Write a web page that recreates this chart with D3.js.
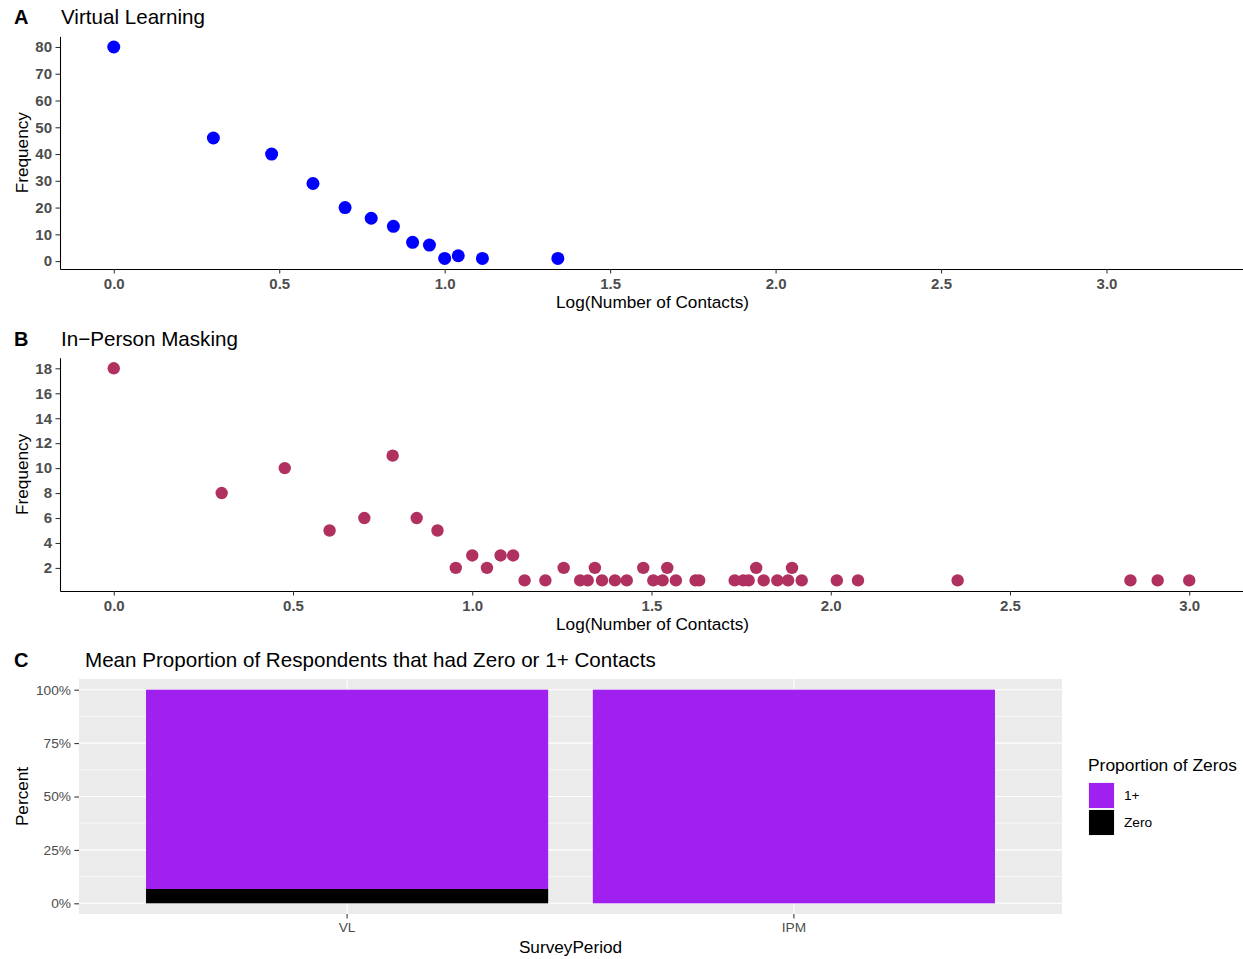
<!DOCTYPE html>
<html><head><meta charset="utf-8">
<script src="https://cdn.jsdelivr.net/npm/d3@7"></script>
<style>
body{margin:0;background:#fff;}
svg{display:block;font-family:"Liberation Sans",Arial,Helvetica,sans-serif;}
</style>
</head><body>
<svg id="chart" width="1243" height="959"></svg>
<script>
// ---------- DATA ----------
const vlLogContacts = [0.000, 0.301, 0.477, 0.602, 0.699, 0.778, 0.845, 0.903, 0.954, 1.000, 1.041, 1.114, 1.342];
const vlFrequency   = [80, 46, 40, 29, 20, 16, 13, 7, 6, 1, 2, 1, 1];

const ipmLogContacts = [0.000, 0.301, 0.477, 0.602, 0.699, 0.778, 0.845, 0.903, 0.954, 1.000,
  1.041, 1.079, 1.114, 1.146, 1.204, 1.255, 1.301, 1.322, 1.342, 1.362,
  1.398, 1.431, 1.477, 1.505, 1.531, 1.544, 1.568, 1.623, 1.633, 1.732,
  1.756, 1.771, 1.792, 1.813, 1.851, 1.881, 1.892, 1.919, 2.017, 2.076,
  2.354, 2.836, 2.912, 3.000];
const ipmFrequency = [18, 8, 10, 5, 6, 11, 6, 5, 2, 3,
  2, 3, 3, 1, 1, 2, 1, 1, 2, 1,
  1, 1, 2, 1, 1, 2, 1, 1, 1, 1,
  1, 1, 2, 1, 1, 1, 2, 1, 1, 1,
  1, 1, 1, 1];

const surveyPeriods = ["VL", "IPM"];
const zeroCategories = ["1+", "Zero"];
const proportionOnePlus = [0.933, 1.000];
const proportionZero = [0.067, 0.000];

const logTicks = [0.0, 0.5, 1.0, 1.5, 2.0, 2.5, 3.0];
const freqTicksA = [0, 10, 20, 30, 40, 50, 60, 70, 80];
const freqTicksB = [2, 4, 6, 8, 10, 12, 14, 16, 18];
const percentTicks = [0, 0.25, 0.5, 0.75, 1.0];

// ---------- DRAW ----------
const svg = d3.select("#chart");
const categoryColor = d3.scaleOrdinal().domain(zeroCategories).range(["#A020F0", "#000000"]);

function headerText(x, y, letter, title, titleX) {
  svg.append("text").attr("x", x).attr("y", y).attr("font-size", 20).attr("font-weight", "bold")
    .attr("fill", "#000").text(letter);
  svg.append("text").attr("x", titleX).attr("y", y).attr("font-size", 20.6).attr("fill", "#000").text(title);
}

function styleAxis(g, labelSize, bold) {
  g.selectAll(".tick line").attr("stroke", "#333333").attr("stroke-width", 1.07);
  g.selectAll(".tick text").attr("fill", "#4D4D4D").attr("font-size", labelSize)
    .attr("font-weight", bold ? "bold" : "normal")
    .attr("font-family", "'Liberation Sans',Arial,Helvetica,sans-serif");
}

function scatterPanel(cfg) {
  const left = 60, right = 1243;
  const x = d3.scaleLinear().domain(cfg.xDomain).range([left, right]);
  const y = d3.scaleLinear().domain(cfg.yDomain).range([cfg.bottom, cfg.top]);

  headerText(14, cfg.titleY, cfg.letter, cfg.title, 61);

  svg.append("g").selectAll("circle")
    .data(cfg.xs.map((v, i) => ({x: v, y: cfg.ys[i]})))
    .join("circle")
    .attr("cx", d => x(d.x)).attr("cy", d => y(d.y)).attr("r", cfg.r)
    .attr("fill", cfg.color);

  const gx = svg.append("g").attr("transform", `translate(0,${cfg.bottom})`)
    .call(d3.axisBottom(x).tickValues(logTicks).tickFormat(d3.format(".1f"))
      .tickSize(4.5).tickSizeOuter(0).tickPadding(4.5));
  gx.select(".domain").attr("stroke", "#000").attr("stroke-width", 1.07);
  styleAxis(gx, 15, true);

  const gy = svg.append("g").attr("transform", `translate(${left},0)`)
    .call(d3.axisLeft(y).tickValues(cfg.yTicks).tickFormat(d3.format("d"))
      .tickSize(4.5).tickSizeOuter(0).tickPadding(3.5));
  gy.select(".domain").attr("stroke", "#000").attr("stroke-width", 1.07);
  styleAxis(gy, 15, true);

  svg.append("text").attr("x", (left + right) / 2 + 1).attr("y", cfg.xTitleY)
    .attr("text-anchor", "middle").attr("font-size", 17.2).attr("fill", "#000")
    .text("Log(Number of Contacts)");
  svg.append("text").attr("transform", `translate(27.5,${(cfg.top + cfg.bottom) / 2}) rotate(-90)`)
    .attr("text-anchor", "middle").attr("font-size", 17.2).attr("fill", "#000")
    .text("Frequency");
}

scatterPanel({
  letter: "A", title: "Virtual Learning", titleY: 23.5,
  xs: vlLogContacts, ys: vlFrequency, color: "#0000FF", r: 6.5,
  xDomain: [-0.1625, 3.4125], yDomain: [-2.95, 83.95],
  top: 36.4, bottom: 269, yTicks: freqTicksA, xTitleY: 308
});

scatterPanel({
  letter: "B", title: "In\u2212Person Masking", titleY: 345.5,
  xs: ipmLogContacts, ys: ipmFrequency, color: "#B03060", r: 6.2,
  xDomain: [-0.15, 3.15], yDomain: [0.15, 18.85],
  top: 357.7, bottom: 591, yTicks: freqTicksB, xTitleY: 629.5
});

// ---------- PANEL C ----------
(function () {
  const left = 79, right = 1062, top = 679, bottom = 914;
  headerText(14, 666.5, "C", "Mean Proportion of Respondents that had Zero or 1+ Contacts", 85);

  const x = d3.scaleBand().domain(surveyPeriods).range([left, right]).paddingInner(0.1).paddingOuter(0.15);
  const y = d3.scaleLinear().domain([-0.05, 1.05]).range([bottom, top]);

  svg.append("rect").attr("x", left).attr("y", top).attr("width", right - left).attr("height", bottom - top)
    .attr("fill", "#EBEBEB");

  const minor = percentTicks.slice(0, -1).map((d, i) => (d + percentTicks[i + 1]) / 2);
  svg.append("g").selectAll("line").data(minor).join("line")
    .attr("x1", left).attr("x2", right).attr("y1", d => y(d)).attr("y2", d => y(d))
    .attr("stroke", "#fff").attr("stroke-width", 0.55);
  svg.append("g").selectAll("line").data(percentTicks).join("line")
    .attr("x1", left).attr("x2", right).attr("y1", d => y(d)).attr("y2", d => y(d))
    .attr("stroke", "#fff").attr("stroke-width", 1.1);
  svg.append("g").selectAll("line").data(surveyPeriods).join("line")
    .attr("x1", d => x(d) + x.bandwidth() / 2).attr("x2", d => x(d) + x.bandwidth() / 2)
    .attr("y1", top).attr("y2", bottom)
    .attr("stroke", "#fff").attr("stroke-width", 1.1);

  const table = surveyPeriods.map((p, i) => ({period: p, "1+": proportionOnePlus[i], "Zero": proportionZero[i]}));
  const series = d3.stack().keys(["Zero", "1+"])(table);
  svg.append("g").selectAll("g").data(series).join("g")
    .attr("fill", s => categoryColor(s.key))
    .selectAll("rect").data(s => s).join("rect")
    .attr("x", d => x(d.data.period)).attr("width", x.bandwidth())
    .attr("y", d => y(d[1])).attr("height", d => Math.max(0, y(d[0]) - y(d[1])));

  const gy = svg.append("g").attr("transform", `translate(${left},0)`)
    .call(d3.axisLeft(y).tickValues(percentTicks).tickFormat(d3.format(".0%"))
      .tickSize(4.7).tickSizeOuter(0).tickPadding(3.3));
  gy.select(".domain").remove();
  styleAxis(gy, 13.7, false);

  const gx = svg.append("g").attr("transform", `translate(0,${bottom})`)
    .call(d3.axisBottom(x).tickSize(4.5).tickSizeOuter(0).tickPadding(4.2));
  gx.select(".domain").remove();
  styleAxis(gx, 13.7, false);

  svg.append("text").attr("x", (left + right) / 2).attr("y", 952.5)
    .attr("text-anchor", "middle").attr("font-size", 17.2).attr("fill", "#000").text("SurveyPeriod");
  svg.append("text").attr("transform", `translate(27.5,${(top + bottom) / 2}) rotate(-90)`)
    .attr("text-anchor", "middle").attr("font-size", 17.2).attr("fill", "#000").text("Percent");

  // legend
  const lg = svg.append("g");
  lg.append("text").attr("x", 1088).attr("y", 771).attr("font-size", 17.4).attr("fill", "#000")
    .text("Proportion of Zeros");
  const keyRows = lg.selectAll("g.key").data(zeroCategories).join("g").attr("class", "key")
    .attr("transform", (d, i) => `translate(1088,${782 + i * 27})`);
  keyRows.append("rect").attr("width", 27).attr("height", 27).attr("fill", "#F2F2F2");
  keyRows.append("rect").attr("x", 1).attr("y", 1).attr("width", 25).attr("height", 25)
    .attr("fill", d => categoryColor(d));
  keyRows.append("text").attr("x", 36).attr("y", 13.5).attr("dy", "0.36em")
    .attr("font-size", 13.7).attr("fill", "#000").text(d => d);
})();
</script>
</body></html>
